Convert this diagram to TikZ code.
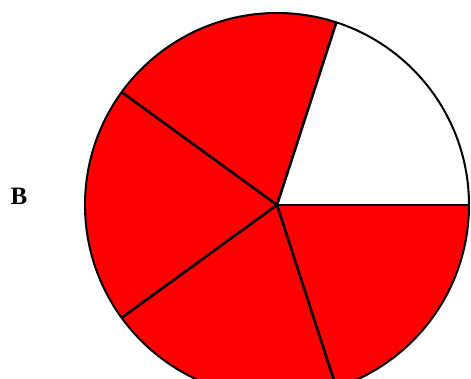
\documentclass[tikz,border=0pt]{standalone}
\usepackage{fontspec}
\setmainfont{Liberation Serif}
\begin{document}
\begin{tikzpicture}[x=1pt,y=1pt,
  sector/.style={fill={rgb,255:red,255;green,0;blue,0}},
  radial/.style={line width=2.6pt, black},
  rim/.style={line width=2pt, black}]
\useasboundingbox (0,0) rectangle (471,379);
\clip (0,0) rectangle (471,379);
\coordinate (c) at (277,174);
\foreach \a in {72,144,216,288}
  \fill[sector] (c) -- ++(\a:192pt) arc[start angle=\a, end angle=\a+72, radius=192pt] -- cycle;
\foreach \a in {0,72,144,216,288}
  \draw[radial] (c) -- ++(\a:192pt);
\draw[rim] (c) circle[radius=192pt];
\node[font=\fontsize{25}{25}\selectfont\bfseries, inner sep=0pt] (b) at (19,183) {B};
\end{tikzpicture}
\end{document}
